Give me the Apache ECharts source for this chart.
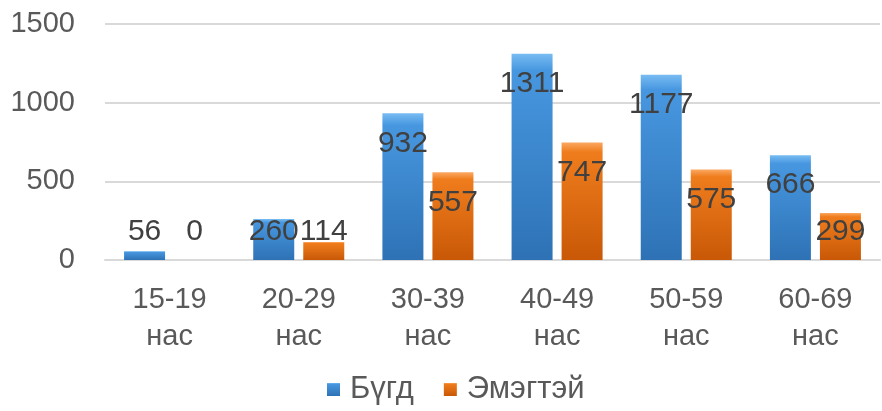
<!DOCTYPE html>
<html>
<head>
<meta charset="utf-8">
<script src="https://cdn.jsdelivr.net/npm/echarts@6/dist/echarts.min.js"></script>
<style>html,body{margin:0;padding:0;background:#fff}#c{width:882px;height:411px}</style>
</head>
<body>
<div id="c"></div>
<script>
const categories = ['15-19\nнас', '20-29\nнас', '30-39\nнас', '40-49\nнас', '50-59\nнас', '60-69\nнас'];
const seriesNames = ['Бүгд', 'Эмэгтэй'];
const totalValues = [56, 260, 932, 1311, 1177, 666];
const femaleValues = [0, 114, 557, 747, 575, 299];
const yTicks = [0, 500, 1000, 1500];

const font = 'Liberation Sans, Arial, sans-serif';
const chart = echarts.init(document.getElementById('c'));

function grad(c1, c2, c3) {
  return new echarts.graphic.LinearGradient(0, 0, 0, 1, [
    { offset: 0, color: c1 }, { offset: 0.08, color: c2 }, { offset: 1, color: c3 }
  ]);
}

const labelCfg = {
  show: true, position: 'insideTop', color: '#404040', fontSize: 30, fontFamily: font
};
function layout(p) {
  const r = p.rect;
  const base = r.y + r.height;
  const cy = Math.min(r.y + 30, base - 28);
  return { x: r.x + r.width / 2, y: cy, align: 'center', verticalAlign: 'middle' };
}

chart.setOption({
  animation: false,
  grid: { left: 105, right: 2, top: 24, bottom: 151 },
  legend: {
    bottom: 1, left: 322, itemWidth: 13, itemHeight: 13, itemGap: 30,
    icon: 'rect',
    textStyle: { fontSize: 31, color: '#595959', fontFamily: font, padding: [0, 0, 0, 5] },
    data: seriesNames
  },
  xAxis: {
    type: 'category', data: categories,
    axisLine: { lineStyle: { color: '#d9d9d9', width: 2 } },
    axisTick: { show: false },
    axisLabel: { color: '#595959', fontSize: 29, fontFamily: font, lineHeight: 37, margin: 21 }
  },
  yAxis: {
    type: 'value', min: yTicks[0], max: yTicks[yTicks.length - 1], interval: 500,
    axisLine: { show: false }, axisTick: { show: false },
    splitLine: { lineStyle: { color: '#d9d9d9', width: 2 } },
    axisLabel: { color: '#595959', fontSize: 29, fontFamily: font, margin: 30, formatter: v => String(v) }
  },
  series: [
    {
      name: seriesNames[0], type: 'bar', data: totalValues,
      barWidth: 41, barGap: '22%',
      itemStyle: { color: grad('#78bcf2', '#4797e0', '#2e72b5') },
      label: labelCfg, labelLayout: layout
    },
    {
      name: seriesNames[1], type: 'bar', data: femaleValues,
      barWidth: 41,
      itemStyle: { color: grad('#fba862', '#ef7d1d', '#c95807') },
      label: labelCfg, labelLayout: layout
    }
  ]
});
</script>
</body>
</html>
